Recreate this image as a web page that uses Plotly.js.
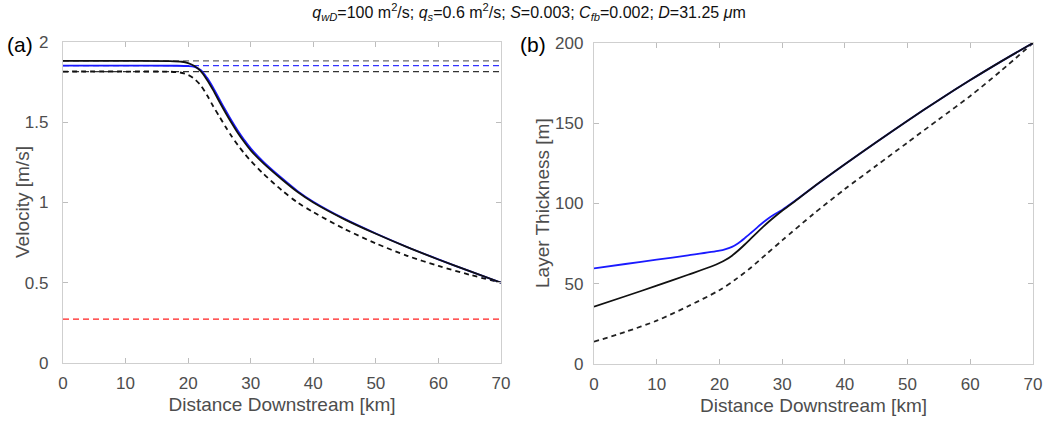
<!DOCTYPE html>
<html>
<head>
<meta charset="utf-8">
<script src="https://cdn.plot.ly/plotly-3.0.1.min.js"></script>
<style>html,body{margin:0;padding:0;background:#fff;}#chart{width:1058px;height:425px;}</style>
</head>
<body>
<div id="chart"></div>
<script>
// ---- Panel (a): velocity ----
const aSolidX = [0,10,17,19,20,21,22,23,24,25,26,27,28,29,30,32,35,37.5,40,45,50,55,60,65,70];
const aSolidV = [1.882,1.882,1.881,1.877,1.868,1.85,1.818,1.765,1.7,1.628,1.558,1.492,1.43,1.375,1.325,1.245,1.143,1.065,1.0,0.895,0.805,0.722,0.645,0.572,0.5];
const aBlueX = [0,10,18,20,21,22,23,24,25,26,27,28,29,30,32,35,37.5,40,45,50,55,60,65,70];
const aBlueV = [1.853,1.853,1.852,1.85,1.845,1.826,1.778,1.715,1.643,1.573,1.506,1.444,1.388,1.337,1.255,1.151,1.071,1.005,0.898,0.807,0.723,0.646,0.572,0.5];
const aDashX = [0,10,17,18.7,20,21,22,23,24,25,26,27,28,29,30,32,35,37.5,40,45,50,55,60,65,70];
const aDashV = [1.816,1.816,1.815,1.81,1.795,1.77,1.73,1.67,1.6,1.535,1.47,1.41,1.355,1.305,1.26,1.18,1.075,1.0,0.94,0.835,0.745,0.668,0.605,0.55,0.5];
const refX = [0,70];
const refGray = [1.882,1.882];
const refBlue = [1.853,1.853];
const refDark = [1.816,1.816];
const refRed = [0.273,0.273];

// ---- Panel (b): layer thickness ----
const bBlueX = [0,5,10,15,20,21,22,23,24,25,26,27,28,29,30,32,35,40,45,50,55,60,65,70];
const bBlueH = [59.6,62.3,65,67.7,70.6,71.6,73,75.3,78.3,81.6,85,88.3,91.3,93.8,96,101.5,110.3,124.4,138.2,151.6,164.5,176.9,188.7,200];
const bSolidX = [0,5,10,15,19,20,21,22,23,24,25,26,27,28,29,30,32,35,40,45,50,55,60,65,70];
const bSolidH = [35.7,42.2,48.8,55.6,61.2,62.9,64.9,67.5,70.7,74.3,78.1,81.9,85.6,89.1,92.4,95.5,101.3,110.3,124.4,138.2,151.6,164.5,176.9,188.7,200];
const bDashX = [0,5,10,15,20,22.5,25,27.5,30,35,40,45,50,55,60,65,70];
const bDashH = [13.9,20,27,36,46,52.5,60,68.5,77,93.5,109,123.5,138,152.5,167,183,200];

const xTicks = [0,10,20,30,40,50,60,70];

const dashPat = '6px,4px';
const traces = [
  {x: refX, y: refGray, xaxis:'x', yaxis:'y', mode:'lines', line:{color:'#666666', width:1.3, dash:dashPat}},
  {x: refX, y: refBlue, xaxis:'x', yaxis:'y', mode:'lines', line:{color:'#3333ff', width:1.3, dash:dashPat}},
  {x: refX, y: refDark, xaxis:'x', yaxis:'y', mode:'lines', line:{color:'#333333', width:1.3, dash:dashPat}},
  {x: refX, y: refRed, xaxis:'x', yaxis:'y', mode:'lines', line:{color:'#ff2020', width:1.3, dash:dashPat}},
  {x: aDashX, y: aDashV, xaxis:'x', yaxis:'y', mode:'lines', line:{color:'#111111', width:1.8, dash:'5px,4px', shape:'spline', smoothing:0.8}},
  {x: aBlueX, y: aBlueV, xaxis:'x', yaxis:'y', mode:'lines', line:{color:'#1a1aff', width:1.8, shape:'spline', smoothing:0.8}},
  {x: aSolidX, y: aSolidV, xaxis:'x', yaxis:'y', mode:'lines', line:{color:'#111111', width:1.8, shape:'spline', smoothing:0.8}},
  {x: bDashX, y: bDashH, xaxis:'x2', yaxis:'y2', mode:'lines', line:{color:'#222222', width:1.8, dash:'5px,4px', shape:'spline', smoothing:0.8}},
  {x: bBlueX, y: bBlueH, xaxis:'x2', yaxis:'y2', mode:'lines', line:{color:'#1a1aff', width:1.8, shape:'spline', smoothing:0.8}},
  {x: bSolidX, y: bSolidH, xaxis:'x2', yaxis:'y2', mode:'lines', line:{color:'#111111', width:1.8, shape:'spline', smoothing:0.8}}
];

const fam = 'Liberation Sans, Arial, sans-serif';
const tickFont = {family:fam, size:17, color:'#4d4d4d'};
const titleFont = {family:fam, size:19, color:'#4d4d4d'};
const axCommon = {
  showline:true, linecolor:'#cfcfcf', linewidth:1.2, mirror:'ticks',
  ticks:'inside', ticklen:5, tickcolor:'#bdbdbd', tickwidth:1,
  showgrid:false, zeroline:false, tickfont:tickFont, automargin:false, fixedrange:true
};

const layout = {
  width:1058, height:425,
  margin:{l:0, r:0, t:0, b:0},
  paper_bgcolor:'#ffffff', plot_bgcolor:'#ffffff',
  showlegend:false,
  title:{
    text:'<i>q</i><sub><i>wD</i></sub>=100 m<sup>2</sup>/s; <i>q</i><sub><i>s</i></sub>=0.6 m<sup>2</sup>/s; <i>S</i>=0.003; <i>C</i><sub><i>fb</i></sub>=0.002; <i>D</i>=31.25 <i>μ</i>m',
    font:{family:fam, size:16, color:'#111111'},
    x:0.5, xref:'paper', xanchor:'center', y:0.972, yref:'container', yanchor:'middle'
  },
  xaxis: Object.assign({}, axCommon, {
    domain:[63/1058, 501/1058], range:[0,70], tickvals:xTicks, anchor:'y', ticklabelstandoff:4,
    title:{text:'Distance Downstream [km]', font:titleFont, standoff:6}
  }),
  yaxis: Object.assign({}, axCommon, {
    domain:[62/425, 383/425], range:[0,2], dtick:0.5, tick0:0, anchor:'x', ticklabelstandoff:10
  }),
  xaxis2: Object.assign({}, axCommon, {
    domain:[594/1058, 1033/1058], range:[0,70], tickvals:xTicks, anchor:'y2', ticklabelstandoff:4,
    title:{text:'Distance Downstream [km]', font:titleFont, standoff:6}
  }),
  yaxis2: Object.assign({}, axCommon, {
    domain:[61/425, 382/425], range:[0,200], dtick:50, tick0:0, anchor:'x2', ticklabelstandoff:6
  }),
  annotations:[
    {text:'(a)', x:5/1058, y:(425-45)/425, xref:'paper', yref:'paper', xanchor:'left', yanchor:'middle', showarrow:false,
     font:{family:fam, size:21, color:'#000000'}},
    {text:'(b)', x:518/1058, y:(425-45)/425, xref:'paper', yref:'paper', xanchor:'left', yanchor:'middle', showarrow:false,
     font:{family:fam, size:21, color:'#000000'}},
    {text:'Velocity [m/s]', x:22/1058, y:(425-202)/425, xref:'paper', yref:'paper', xanchor:'center', yanchor:'middle', textangle:-90, showarrow:false,
     font:titleFont},
    {text:'Layer Thickness [m]', x:542/1058, y:(425-203)/425, xref:'paper', yref:'paper', xanchor:'center', yanchor:'middle', textangle:-90, showarrow:false,
     font:titleFont}
  ]
};

Plotly.newPlot('chart', traces, layout, {staticPlot:true, displayModeBar:false});
</script>
</body>
</html>
